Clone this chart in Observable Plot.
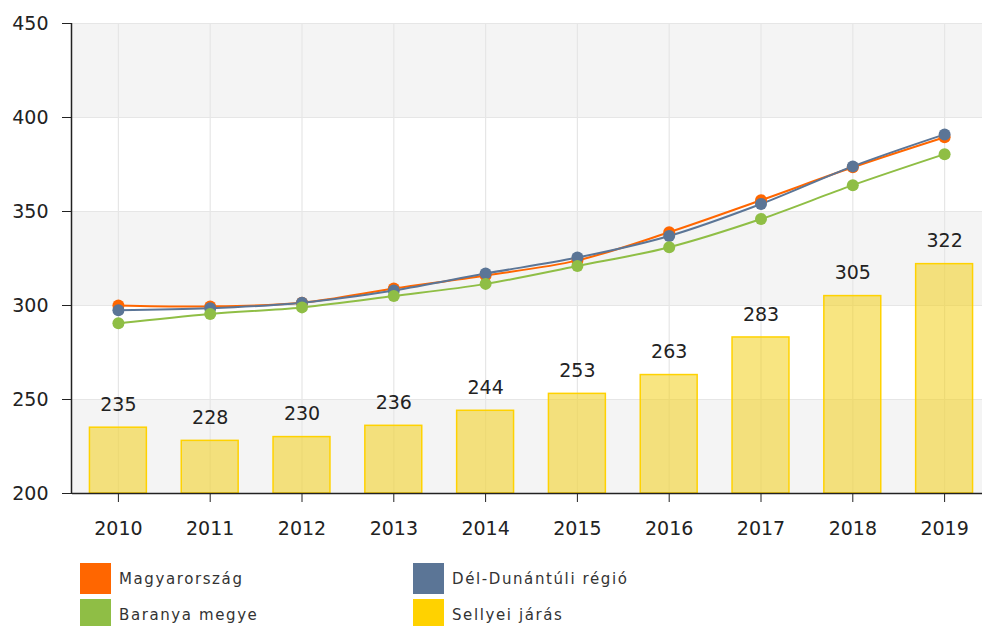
<!DOCTYPE html>
<html>
<head>
<meta charset="utf-8">
<script src="https://cdn.jsdelivr.net/npm/d3@7"></script>
<script src="https://cdn.jsdelivr.net/npm/@observablehq/plot@0.6"></script>
<style>
  html, body { margin: 0; padding: 0; background: #fff; overflow: hidden; }
  body { width: 982px; height: 626px; font-family: "DejaVu Sans", Verdana, sans-serif; }
  #legend { position: relative; height: 80px; }
  .item { position: absolute; display: flex; align-items: center; font-size: 15px; letter-spacing: 1.6px; color: #333; }
  .sw { width: 31px; height: 31px; margin-right: 8px; }
</style>
</head>
<body>
<div id="chart"></div>
<div id="legend"></div>
<script>
const years = ["2010","2011","2012","2013","2014","2015","2016","2017","2018","2019"];
const magyarorszag = [300, 299.5, 301.5, 309, 316, 324, 339, 356, 373.5, 389.5];
const delDunantuli = [297.5, 298.5, 301.5, 308, 317, 325.5, 337, 354, 374, 391];
const baranya = [290.5, 295.5, 299, 305, 311.5, 321, 331, 346, 364, 380.5];
const sellyei = [235, 228, 230, 236, 244, 253, 263, 283, 305, 322];
const yTicks = [200, 250, 300, 350, 400, 450];
const seriesNames = ["Magyarország", "Dél-Dunántúli régió", "Baranya megye", "Sellyei járás"];
const seriesColors = ["#ff6600", "#5b7596", "#8fbe45", "#ffd200"];

const bars = years.map((y, i) => ({year: y, value: sellyei[i]}));
const lines = [];
[magyarorszag, delDunantuli, baranya].forEach((arr, s) => {
  arr.forEach((v, i) => lines.push({series: seriesNames[s], year: years[i], value: v}));
});
const bands = [];
for (let i = 0; i + 1 < yTicks.length; i += 2) bands.push({y1: yTicks[i], y2: yTicks[i + 1]});

const chart = Plot.plot({
  width: 982,
  height: 545,
  marginTop: 23,
  marginLeft: 72,
  marginRight: 0,
  marginBottom: 52,
  style: {fontFamily: "DejaVu Sans, Verdana, sans-serif", fontSize: "19px", color: "#222", background: "transparent"},
  x: {type: "band", domain: years, range: [72, 990], paddingInner: 0.38, paddingOuter: 0.19, round: false, label: null},
  y: {domain: [200, 450], label: null},
  color: {domain: seriesNames, range: seriesColors},
  marks: [
    Plot.rect(bands, {y1: "y1", y2: "y2", fill: "#f4f4f4"}),
    Plot.ruleY(yTicks.slice(1), {stroke: "#e6e6e6", strokeWidth: 1.2}),
    Plot.ruleX(years, {x: d => d, stroke: "#e6e6e6", strokeWidth: 1.2}),
    Plot.barY(bars, {x: "year", y1: 200, y2: "value", fill: "#f2cf1a", fillOpacity: 0.55, stroke: "#ffd200", strokeWidth: 1.5}),
    Plot.text(bars, {x: "year", y: "value", text: d => String(d.value), dy: -23, fill: "#222", fontSize: 19}),
    Plot.line(lines, {x: "year", y: "value", z: "series", stroke: "series", strokeWidth: 2, curve: "catmull-rom"}),
    Plot.dot(lines, {x: "year", y: "value", fill: "series", r: 6, stroke: "none"}),
    Plot.axisY({ticks: yTicks, tickSize: 10, tickPadding: 14, fontSize: 19, stroke: "#222", fill: "#222"}),
    Plot.axisX({tickSize: 9, tickPadding: 19, fontSize: 19, stroke: "#222", fill: "#222"}),
    Plot.ruleY([200], {stroke: "#222", strokeWidth: 1.5}),
  ]
});
document.getElementById("chart").appendChild(chart);

// left axis line
const svg = d3.select(chart.tagName === "svg" ? chart : chart.querySelector("svg"));
svg.append("line").attr("x1", 71.5).attr("x2", 71.5).attr("y1", 23).attr("y2", 493).attr("stroke", "#222").attr("stroke-width", 1.5);

const legend = document.getElementById("legend");
const pos = [[80, 18], [413, 18], [80, 54], [413, 54]];
seriesNames.forEach((name, s) => {
  const div = document.createElement("div");
  div.className = "item";
  div.style.left = pos[s][0] + "px";
  div.style.top = pos[s][1] + "px";
  const sw = document.createElement("div");
  sw.className = "sw";
  sw.style.background = seriesColors[s];
  const t = document.createElement("span");
  t.textContent = name;
  div.appendChild(sw); div.appendChild(t);
  legend.appendChild(div);
});
</script>
</body>
</html>
